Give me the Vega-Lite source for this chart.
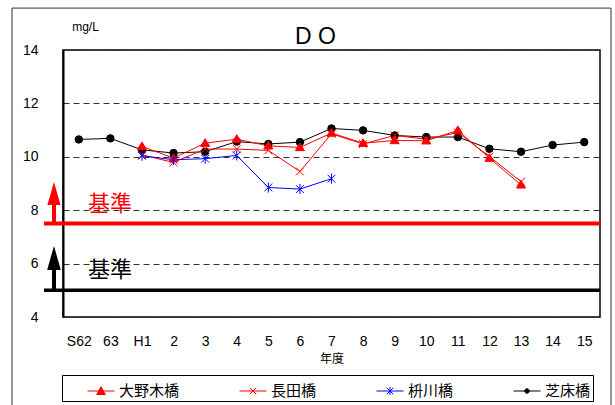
{
  "$schema": "https://vega.github.io/schema/vega-lite/v6.json",
  "width": 537,
  "height": 267,
  "autosize": "none",
  "padding": {"left": 63, "top": 50, "right": 15, "bottom": 88},
  "background": "white",
  "title": {"text": "D O", "fontSize": 23, "font": "Liberation Sans Narrow, Liberation Sans", "fontWeight": "normal", "dx": -16, "dy": 46, "offset": 5, "color": "black"},
  "config": {
    "view": {"stroke": "black", "strokeWidth": 1.5},
    "font": "Liberation Sans"
  },
  "datasets": {
    "do": [
      {"year": "S62", "site": "芝床橋", "value": 10.65},
      {"year": "63", "site": "芝床橋", "value": 10.69},
      {"year": "H1", "site": "芝床橋", "value": 10.26},
      {"year": "2", "site": "芝床橋", "value": 10.14},
      {"year": "3", "site": "芝床橋", "value": 10.19},
      {"year": "4", "site": "芝床橋", "value": 10.57},
      {"year": "5", "site": "芝床橋", "value": 10.48},
      {"year": "6", "site": "芝床橋", "value": 10.55},
      {"year": "7", "site": "芝床橋", "value": 11.06},
      {"year": "8", "site": "芝床橋", "value": 10.99},
      {"year": "9", "site": "芝床橋", "value": 10.8},
      {"year": "10", "site": "芝床橋", "value": 10.74},
      {"year": "11", "site": "芝床橋", "value": 10.74},
      {"year": "12", "site": "芝床橋", "value": 10.3},
      {"year": "13", "site": "芝床橋", "value": 10.19},
      {"year": "14", "site": "芝床橋", "value": 10.44},
      {"year": "15", "site": "芝床橋", "value": 10.55},
      {"year": "H1", "site": "大野木橋", "value": 10.39},
      {"year": "2", "site": "大野木橋", "value": 9.95},
      {"year": "3", "site": "大野木橋", "value": 10.51},
      {"year": "4", "site": "大野木橋", "value": 10.66},
      {"year": "5", "site": "大野木橋", "value": 10.41},
      {"year": "6", "site": "大野木橋", "value": 10.35},
      {"year": "7", "site": "大野木橋", "value": 10.89},
      {"year": "8", "site": "大野木橋", "value": 10.51},
      {"year": "9", "site": "大野木橋", "value": 10.61},
      {"year": "10", "site": "大野木橋", "value": 10.6},
      {"year": "11", "site": "大野木橋", "value": 10.99},
      {"year": "12", "site": "大野木橋", "value": 9.95},
      {"year": "13", "site": "大野木橋", "value": 8.95},
      {"year": "H1", "site": "長田橋", "value": 10.07},
      {"year": "2", "site": "長田橋", "value": 9.79},
      {"year": "3", "site": "長田橋", "value": 10.29},
      {"year": "4", "site": "長田橋", "value": 10.29},
      {"year": "5", "site": "長田橋", "value": 10.24},
      {"year": "6", "site": "長田橋", "value": 9.45},
      {"year": "7", "site": "長田橋", "value": 10.86},
      {"year": "8", "site": "長田橋", "value": 10.48},
      {"year": "9", "site": "長田橋", "value": 10.8},
      {"year": "10", "site": "長田橋", "value": 10.66},
      {"year": "11", "site": "長田橋", "value": 10.91},
      {"year": "12", "site": "長田橋", "value": 10.01},
      {"year": "13", "site": "長田橋", "value": 9.07},
      {"year": "H1", "site": "枡川橋", "value": 10.04},
      {"year": "2", "site": "枡川橋", "value": 9.89},
      {"year": "3", "site": "枡川橋", "value": 9.93},
      {"year": "4", "site": "枡川橋", "value": 10.05},
      {"year": "5", "site": "枡川橋", "value": 8.85},
      {"year": "6", "site": "枡川橋", "value": 8.79},
      {"year": "7", "site": "枡川橋", "value": 9.18}
    ]
  },
  "encoding": {
    "y": {
      "type": "quantitative",
      "scale": {"domain": [4, 14], "nice": false, "zero": false},
      "axis": {"values": [4, 6, 8, 10, 12, 14], "title": "mg/L", "titleAngle": 0, "titleX": 22, "titleY": -24, "titleAlign": "center", "titleBaseline": "middle", "titleFontSize": 12, "titleFontWeight": "normal", "titleColor": "black", "labelFontSize": 14, "labelColor": "black", "ticks": true, "tickSize": 0, "tickColor": "transparent", "labelPadding": 25, "domainColor": "black", "domainWidth": 2, "grid": true, "gridColor": "#333", "gridDash": [6, 4], "gridWidth": 1}
    }
  },
  "layer": [
    {
      "data": {"name": "do"},
      "encoding": {
        "x": {
          "field": "year", "type": "ordinal",
          "scale": {"type": "point", "padding": 0.5, "domain": ["S62","63","H1","2","3","4","5","6","7","8","9","10","11","12","13","14","15"]},
          "axis": {"title": "年度", "titleFont": "Noto Sans CJK JP", "titleFontSize": 12, "titleFontWeight": "normal", "titleColor": "black", "titlePadding": 5, "labelFontSize": 14, "labelColor": "black", "labelAngle": 0, "ticks": true, "tickSize": 0, "tickColor": "transparent", "labelPadding": 17, "domain": false, "grid": false}
        },
        "y": {"field": "value", "type": "quantitative"}
      },
      "layer": [
        {
          "mark": {"type": "line", "strokeWidth": 1},
          "encoding": {
            "stroke": {"field": "site", "type": "nominal", "scale": {"domain": ["大野木橋","長田橋","枡川橋","芝床橋"], "range": ["#FF0000","#FF0000","#0000FF","#000000"]}, "legend": null}
          }
        },
        {
          "mark": {"type": "point", "strokeWidth": 1, "opacity": 1, "size": 56},
          "encoding": {
            "fill": {"field": "site", "type": "nominal", "scale": {"domain": ["大野木橋","長田橋","枡川橋","芝床橋"], "range": ["#FF0000","transparent","transparent","#000000"]}, "legend": null},
            "stroke": {"field": "site", "type": "nominal", "scale": {"domain": ["大野木橋","長田橋","枡川橋","芝床橋"], "range": ["#FF0000","#FF0000","#0000FF","#000000"]}, "legend": null},
            "shape": {"field": "site", "type": "nominal", "scale": {"domain": ["大野木橋","長田橋","枡川橋","芝床橋"], "range": ["M0,-1.2L1.2,0.85H-1.2Z", "M-1.05,-1.05L1.05,1.05M-1.05,1.05L1.05,-1.05", "M-1.05,-1.05L1.05,1.05M-1.05,1.05L1.05,-1.05M0,-1.35V1.35", "circle"]}, "legend": null}
          }
        },
        {
          "mark": {"type": "point", "strokeWidth": 1, "opacity": 0, "size": 729},
          "encoding": {
            "fill": {"field": "site", "type": "nominal", "scale": {"domain": ["大野木橋","長田橋","枡川橋","芝床橋"], "range": ["#FF0000","transparent","transparent","#000000"]},
              "legend": {"orient": "none", "legendX": -1, "legendY": 325, "direction": "horizontal", "columns": 4, "columnPadding": 57, "title": " ", "titleOrient": "left", "titleFontSize": 15, "titlePadding": 23, "padding": 2, "strokeColor": "black", "labelFont": "Noto Sans CJK JP", "labelFontSize": 15, "labelColor": "black", "labelOffset": 4, "symbolOpacity": 1, "symbolStrokeWidth": 1, "symbolSize": 729}},
            "stroke": {"field": "site", "type": "nominal", "scale": {"domain": ["大野木橋","長田橋","枡川橋","芝床橋"], "range": ["#FF0000","#FF0000","#0000FF","#000000"]},
              "legend": {"orient": "none", "legendX": -1, "legendY": 325, "direction": "horizontal", "columns": 4, "columnPadding": 57, "title": " ", "titleOrient": "left", "titleFontSize": 15, "titlePadding": 23, "padding": 2, "strokeColor": "black", "labelFont": "Noto Sans CJK JP", "labelFontSize": 15, "labelColor": "black", "labelOffset": 4, "symbolOpacity": 1, "symbolStrokeWidth": 1, "symbolSize": 729}},
            "shape": {"field": "site", "type": "nominal", "scale": {"domain": ["大野木橋","長田橋","枡川橋","芝床橋"], "range": ["M-1,0H1M0,-0.32L0.32,0.26H-0.32Z", "M-1,0H1M-0.24,-0.24L0.24,0.24M-0.24,0.24L0.24,-0.24", "M-1,0H1M-0.24,-0.24L0.24,0.24M-0.24,0.24L0.24,-0.24M0,-0.3V0.3", "M-1,0H1M0.17,0A0.17,0.17 0 1 1 -0.17,0A0.17,0.17 0 1 1 0.17,0Z"]},
              "legend": {"orient": "none", "legendX": -1, "legendY": 325, "direction": "horizontal", "columns": 4, "columnPadding": 57, "title": " ", "titleOrient": "left", "titleFontSize": 15, "titlePadding": 23, "padding": 2, "strokeColor": "black", "labelFont": "Noto Sans CJK JP", "labelFontSize": 15, "labelColor": "black", "labelOffset": 4, "symbolOpacity": 1, "symbolStrokeWidth": 1, "symbolSize": 729}}
          }
        }
      ],
      "resolve": {"scale": {"fill": "independent", "stroke": "independent", "shape": "independent"}}
    },
    {
      "data": {"values": [{"standard": 7.5, "band": "A"}, {"standard": 5, "band": "B"}]},
      "encoding": {
        "x": {"datum": -0.0354, "type": "quantitative", "scale": {"domain": [0, 1], "nice": false, "zero": false}, "axis": null}
      },
      "layer": [
        {
          "mark": {"type": "rule", "clip": false},
          "encoding": {
            "x2": {"datum": 1},
            "y": {"field": "standard", "type": "quantitative"},
            "stroke": {"field": "band", "type": "nominal", "scale": {"domain": ["A", "B"], "range": ["#FF0000", "#000000"]}, "legend": null},
            "strokeWidth": {"field": "band", "type": "nominal", "scale": {"domain": ["A", "B"], "range": [4, 3.5]}, "legend": null}
          }
        }
      ]
    },
    {
      "data": {"values": [{}]},
      "encoding": {
        "x": {"datum": -0.0168, "type": "quantitative", "scale": {"domain": [0, 1], "nice": false, "zero": false}, "axis": null}
      },
      "layer": [
        {
          "mark": {"type": "rule", "stroke": "#FF0000", "strokeWidth": 4, "clip": false},
          "encoding": {"y": {"datum": 7.5}, "y2": {"datum": 8.25}}
        },
        {
          "mark": {"type": "point", "shape": "M0,-1L0.57,1H-0.57Z", "size": 529, "filled": true, "fill": "#FF0000", "strokeWidth": 0, "opacity": 1, "clip": false},
          "encoding": {"y": {"datum": 8.63}}
        },
        {
          "mark": {"type": "rule", "stroke": "#000000", "strokeWidth": 4, "clip": false},
          "encoding": {"y": {"datum": 5}, "y2": {"datum": 5.8}}
        },
        {
          "mark": {"type": "point", "shape": "M0,-1L0.57,1H-0.57Z", "size": 576, "filled": true, "fill": "#000000", "strokeWidth": 0, "opacity": 1, "clip": false},
          "encoding": {"y": {"datum": 6.21}}
        }
      ]
    },
    {
      "data": {"values": [{}]},
      "encoding": {
        "x": {"datum": 0.0875, "type": "quantitative", "scale": {"domain": [0, 1], "nice": false, "zero": false}, "axis": null}
      },
      "layer": [
        {
          "mark": {"type": "text", "text": "基準", "font": "Noto Sans CJK JP", "fontSize": 22, "color": "#FF0000", "align": "center", "baseline": "middle"},
          "encoding": {"y": {"datum": 8.23}}
        },
        {
          "mark": {"type": "text", "text": "基準", "font": "Noto Sans CJK JP", "fontSize": 22, "color": "#000000", "align": "center", "baseline": "middle"},
          "encoding": {"y": {"datum": 5.76}}
        }
      ]
    },
    {
      "data": {"values": [{}]},
      "mark": {"type": "rect", "fill": "transparent", "stroke": "#333", "strokeWidth": 1, "clip": false},
      "encoding": {
        "x": {"datum": -0.095, "type": "quantitative", "scale": {"domain": [0, 1], "nice": false, "zero": false}, "axis": null},
        "x2": {"datum": 1.0205},
        "y": {"datum": 15.57},
        "y2": {"datum": 0.3}
      }
    }
  ],
  "resolve": {"scale": {"x": "independent"}}
}
